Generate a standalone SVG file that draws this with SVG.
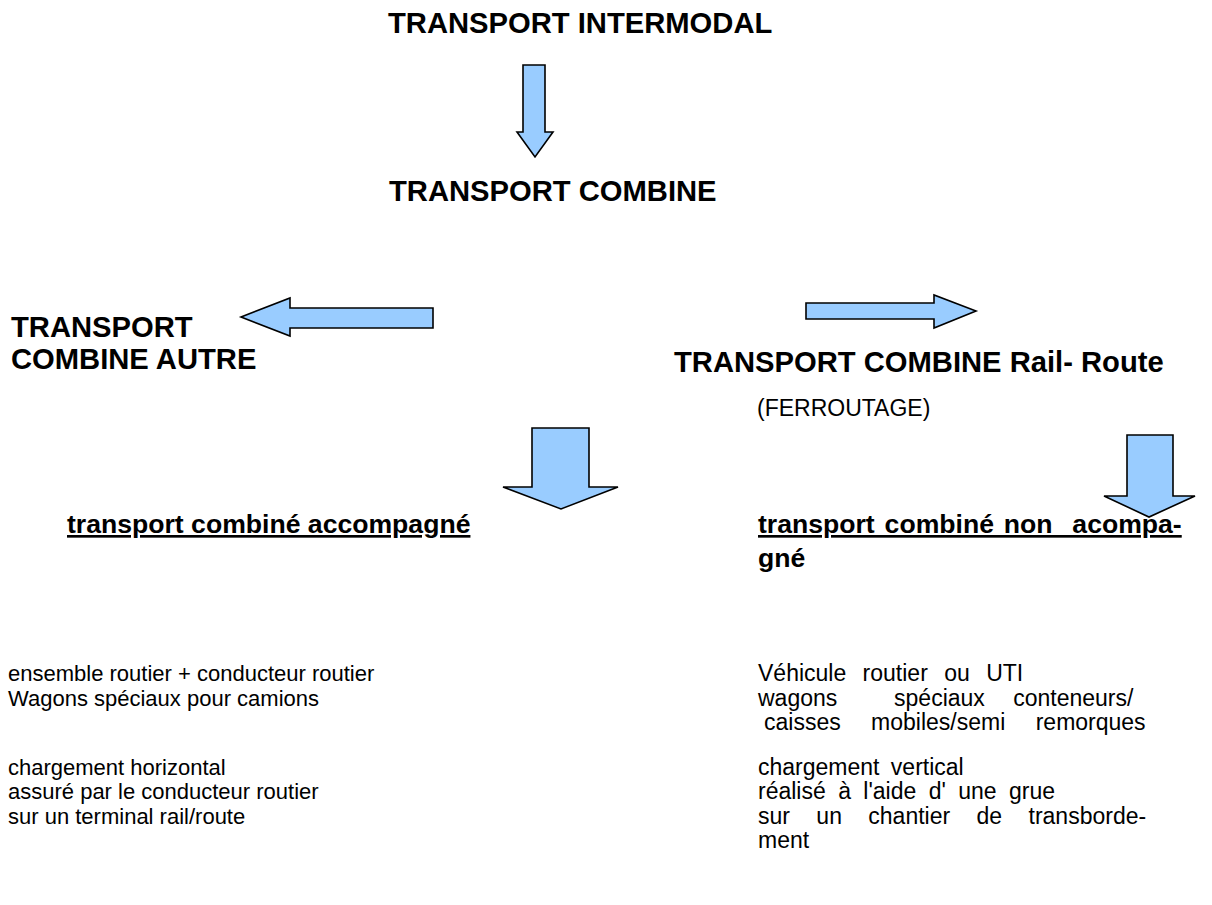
<svg xmlns="http://www.w3.org/2000/svg" width="1212" height="905" viewBox="0 0 1212 905">
<style>
text{font-family:"Liberation Sans",Arial,sans-serif;fill:#000}
.h{font-size:29.2px;font-weight:bold}
.s{font-size:26.6px;font-weight:bold}
.b{font-size:22px}
.r{font-size:23px}
.u{text-decoration:underline}
.arrow{fill:#99CCFF;stroke:#000;stroke-width:1.6;stroke-linejoin:miter}
</style>
<rect width="1212" height="905" fill="#fff"/>
<g id="connectors">
<path class="arrow" d="M523,65 L545,65 L545,132 L553,132 L535,157 L517,132 L523,132 Z"/>
<path class="arrow" d="M433,308 L433,328 L290,328 L290,336 L241,317 L290,298 L290,308 Z"/>
<path class="arrow" d="M806,303 L934,303 L934,295 L976,311 L934,328 L934,319 L806,319 Z"/>
<path class="arrow" d="M532,428 L589,428 L589,487 L618,487 L561,509 L503,487 L532,487 Z"/>
<path class="arrow" d="M1127,435 L1173,435 L1173,496 L1195,496 L1149,517 L1104,496 L1127,496 Z"/>
</g>
<g id="intermodal"><text class="h" x="388" y="33">TRANSPORT INTERMODAL</text></g>
<g id="combine"><text class="h" x="389" y="201">TRANSPORT COMBINE</text></g>
<g id="autre"><text class="h" x="11" y="337">TRANSPORT</text><text class="h" x="11" y="369">COMBINE AUTRE</text></g>
<g id="railroute"><text class="h" x="674" y="372">TRANSPORT COMBINE Rail- Route</text>
<text class="r" x="757" y="416">(FERROUTAGE)</text></g>
<g id="accompagne"><text class="s u" x="67" y="533">transport combiné accompagné</text></g>
<g id="nonaccompagne"><text class="s u" x="758" y="533" word-spacing="2.5" xml:space="preserve">transport combiné non  acompa-</text><text class="s" x="758" y="567">gné</text></g>
<g id="left-details">
<text class="b" x="8" y="681">ensemble routier + conducteur routier</text>
<text class="b" x="8" y="706">Wagons spéciaux pour camions</text>
<text class="b" x="8" y="775">chargement horizontal</text>
<text class="b" x="8" y="799">assuré par le conducteur routier</text>
<text class="b" x="8" y="824">sur un terminal rail/route</text>
</g>
<g id="right-details">
<text class="r" x="758" y="681" word-spacing="10">Véhicule routier ou UTI</text>
<text class="r" x="758" y="706" word-spacing="22" xml:space="preserve">wagons  spéciaux conteneurs/</text>
<text class="r" x="764" y="730" word-spacing="24">caisses mobiles/semi remorques</text>
<text class="r" x="758" y="775" word-spacing="5">chargement vertical</text>
<text class="r" x="758" y="799" word-spacing="6">réalisé à l'aide d' une grue</text>
<text class="r" x="758" y="824" word-spacing="20">sur un chantier de transborde-</text>
<text class="r" x="758" y="848">ment</text>
</g>
</svg>
